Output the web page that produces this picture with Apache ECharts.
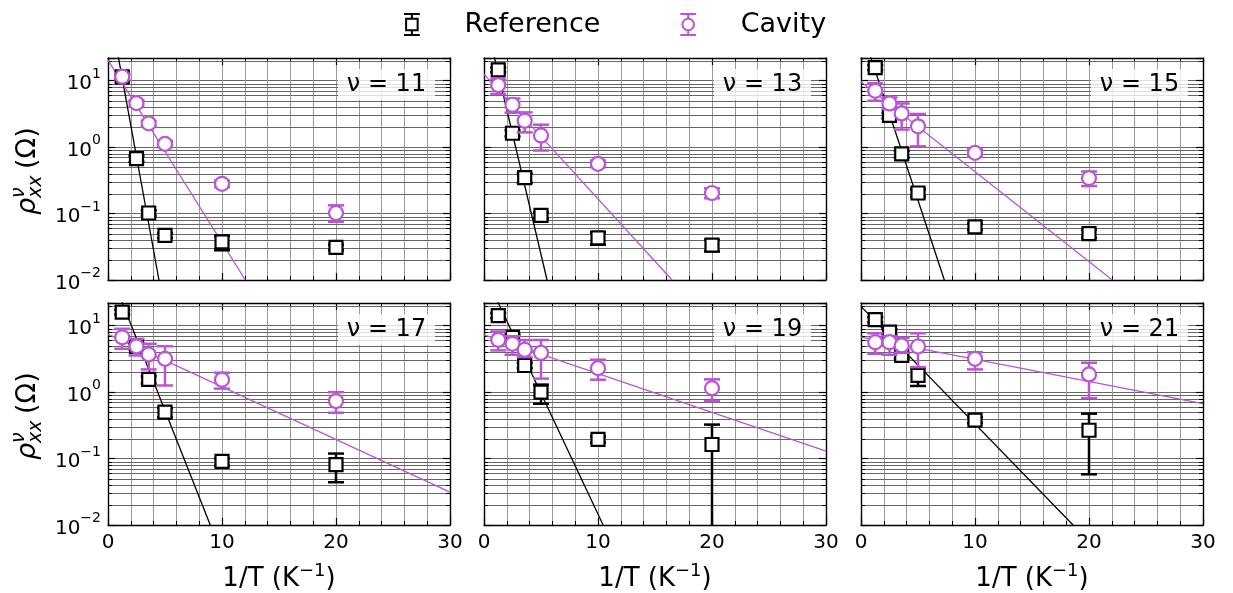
<!DOCTYPE html>
<html><head><meta charset="utf-8">
<script src="https://cdn.jsdelivr.net/npm/echarts@6/dist/echarts.min.js"></script>
<style>html,body{margin:0;padding:0;background:#fff}#c{width:1233px;height:593px}</style>
</head><body><div id="c"></div>
<script>
// ---------- data ----------
const invT = [1.25, 2.5, 3.57, 5, 10, 20];          // 1/T (K^-1)
const nuValues = [11, 13, 15, 17, 19, 21];
const refVals = [
  [11.4, 0.67, 0.102, 0.047, 0.0375, 0.031],
  [14.6, 1.62, 0.347, 0.094, 0.043, 0.0335],
  [15.8, 3.0, 0.79, 0.204, 0.063, 0.050],
  [16.0, 4.9, 1.56, 0.50, 0.091, 0.081],
  [14.2, 6.7, 2.52, 1.0, 0.194, 0.163],
  [12.4, 8.0, 3.57, 1.79, 0.378, 0.267]
];
const refLow = [
  [10.3, 0.60, 0.093, 0.043, 0.028, 0.028],
  [13.5, 1.45, 0.29, 0.085, 0.034, 0.027],
  [14.5, 2.7, 0.70, 0.18, 0.057, 0.043],
  [14.8, 4.4, 1.35, 0.42, 0.078, 0.044],
  [13.0, 6.0, 2.3, 0.67, 0.175, 0.001],
  [11.3, 7.2, 3.2, 1.24, 0.34, 0.058]
];
const refHigh = [
  [12.5, 0.74, 0.112, 0.051, 0.046, 0.034],
  [15.8, 1.80, 0.40, 0.104, 0.052, 0.040],
  [17.2, 3.3, 0.88, 0.23, 0.070, 0.057],
  [17.3, 5.4, 1.75, 0.58, 0.100, 0.119],
  [15.5, 7.4, 2.75, 1.30, 0.215, 0.325],
  [13.5, 8.8, 3.9, 2.3, 0.42, 0.475]
];
const cavVals = [
  [11.5, 4.6, 2.28, 1.12, 0.281, 0.102],
  [8.6, 4.35, 2.5, 1.5, 0.56, 0.204],
  [7.06, 4.55, 3.22, 2.06, 0.82, 0.342],
  [6.7, 4.9, 3.7, 3.18, 1.54, 0.735],
  [6.14, 5.35, 4.35, 3.92, 2.3, 1.15],
  [5.65, 5.65, 5.05, 4.87, 3.18, 1.85]
];
const cavLow = [
  [10.5, 4.1, 2.05, 1.0, 0.25, 0.075],
  [6.3, 3.3, 1.67, 0.89, 0.50, 0.17],
  [5.0, 3.75, 1.84, 1.03, 0.72, 0.26],
  [4.5, 3.57, 2.2, 1.26, 1.13, 0.49],
  [4.25, 3.66, 3.37, 1.6, 1.54, 0.73],
  [3.78, 3.66, 3.92, 2.38, 2.2, 0.815]
];
const cavHigh = [
  [12.5, 5.1, 2.5, 1.24, 0.315, 0.133],
  [10.5, 5.4, 3.34, 2.18, 0.63, 0.24],
  [9.2, 5.6, 4.55, 3.16, 0.95, 0.43],
  [9.0, 6.35, 5.35, 4.92, 1.96, 1.0],
  [8.2, 6.95, 6.1, 6.1, 3.08, 1.56],
  [7.7, 6.95, 6.58, 7.7, 4.0, 2.77]
];
// fit lines: two end points [1/T, rho]
const refFit = [
  [[0, 163], [4.47, 0.01]],
  [[0, 104], [5.53, 0.01]],
  [[0, 63], [7.31, 0.01]],
  [[0, 78], [8.97, 0.01]],
  [[0, 63], [10.45, 0.01]],
  [[0, 19.6], [18.6, 0.01]]
];
const cavFit = [
  [[0, 20.5], [12.05, 0.01]],
  [[0, 12.6], [16.5, 0.01]],
  [[0, 9.66], [22.05, 0.01]],
  [[0, 7.48], [30, 0.0313]],
  [[0, 7.3], [30, 0.129]],
  [[0, 6.76], [30, 0.67]]
];
const minorY = [0.02,0.03,0.04,0.05,0.06,0.07,0.08,0.09,0.2,0.3,0.4,0.5,0.6,0.7,0.8,0.9,2,3,4,5,6,7,8,9,20];

// ---------- layout / style ----------
const FONT = 'DejaVu Sans';
const PURPLE = '#BA55D3';
const colLeft = [108, 484, 861];
const rowTop = [58, 303];
const W = 342, H = 222;

const grids = [], xAxes = [], yAxes = [], series = [], graphics = [];

function yLabel(v) {
  const l = Math.log10(v), e = Math.round(l);
  if (Math.abs(l - e) > 1e-6) return '';
  return '{b|10}{s|' + (e < 0 ? '\u2212' + (-e) : e) + '}';
}

function errRender(color) {
  return function (params, api) {
    const x = api.value(0), lo = api.value(1), hi = api.value(2);
    const a = api.coord([x, hi]), b = api.coord([x, lo]);
    const cs = params.coordSys;
    const yTop = Math.max(a[1], cs.y), yBot = Math.min(b[1], cs.y + cs.height);
    const st = { stroke: color, lineWidth: 2.5 };
    const ch = [{ type: 'line', shape: { x1: a[0], y1: yTop, x2: b[0], y2: yBot }, style: st }];
    if (a[1] >= cs.y) ch.push({ type: 'line', shape: { x1: a[0] - 8, y1: a[1], x2: a[0] + 8, y2: a[1] }, style: st });
    if (b[1] <= cs.y + cs.height) ch.push({ type: 'line', shape: { x1: b[0] - 8, y1: b[1], x2: b[0] + 8, y2: b[1] }, style: st });
    return { type: 'group', children: ch };
  };
}

function minorRender(params, api) {
  const v = api.value(1);
  const pL = api.coord([0, v]), pR = api.coord([30, v]);
  const y = Math.round(pL[1]) + 0.5;
  return { type: 'group', children: [
    { type: 'line', shape: { x1: pL[0], y1: y, x2: pR[0], y2: y }, style: { stroke: '#666', lineWidth: 1 } },
    { type: 'line', shape: { x1: pL[0], y1: y, x2: pL[0] + 4, y2: y }, style: { stroke: '#000', lineWidth: 1 } },
    { type: 'line', shape: { x1: pR[0] - 4, y1: y, x2: pR[0], y2: y }, style: { stroke: '#000', lineWidth: 1 } }
  ]};
}

const frame = { show: true, onZero: false, lineStyle: { color: '#000', width: 1.4 } };

for (let p = 0; p < 6; p++) {
  const r = Math.floor(p / 3), c = p % 3;
  grids.push({ left: colLeft[c], top: rowTop[r], width: W, height: H });
  const showX = r === 1, showY = c === 0;
  xAxes.push({
    gridIndex: p, type: 'value', min: 0, max: 30, interval: 10, position: 'bottom',
    axisLine: frame,
    axisTick: { show: true, inside: true, length: 7, lineStyle: { color: '#000', width: 1.2 } },
    minorTick: { show: true, splitNumber: 5, length: 4, lineStyle: { color: '#000', width: 1 } },
    axisLabel: { show: showX, color: '#000', fontFamily: FONT, fontSize: 20, margin: 8 },
    splitLine: { show: true, lineStyle: { color: '#999', width: 1 } },
    minorSplitLine: { show: true, lineStyle: { color: '#999', width: 1 } },
    name: showX ? '{a|1/T (K}{s|\u22121}{a|)}' : '',
    nameLocation: 'middle', nameGap: 37,
    nameTextStyle: { rich: {
      a: { fontFamily: FONT, fontSize: 26, color: '#000', verticalAlign: 'bottom', lineHeight: 30 },
      s: { fontFamily: FONT, fontSize: 18, color: '#000', verticalAlign: 'top', lineHeight: 18 }
    } }
  });
  xAxes.push({
    gridIndex: p, type: 'value', min: 0, max: 30, interval: 10, position: 'top',
    axisLine: frame,
    axisTick: { show: true, inside: true, length: 7, lineStyle: { color: '#000', width: 1.2 } },
    minorTick: { show: true, splitNumber: 5, length: 4, lineStyle: { color: '#000', width: 1 } },
    axisLabel: { show: false }, splitLine: { show: false }
  });
  yAxes.push({
    gridIndex: p, type: 'log', logBase: 10, min: 0.01, max: 22, position: 'left',
    axisLine: frame,
    axisTick: { show: true, inside: true, length: 7, lineStyle: { color: '#000', width: 1.2 } },
    axisLabel: { show: showY, formatter: yLabel, margin: 7, rich: {
      b: { fontFamily: FONT, fontSize: 20, color: '#000', verticalAlign: 'bottom', lineHeight: 27 },
      s: { fontFamily: FONT, fontSize: 14, color: '#000', verticalAlign: 'top', lineHeight: 14 }
    } },
    splitLine: { show: true, lineStyle: { color: '#666', width: 1 } }
  });
  yAxes.push({
    gridIndex: p, type: 'log', logBase: 10, min: 0.01, max: 22, position: 'right',
    axisLine: frame,
    axisTick: { show: true, inside: true, length: 7, lineStyle: { color: '#000', width: 1.2 } },
    axisLabel: { show: false }, splitLine: { show: false }
  });

  const xi = 2 * p, yi = 2 * p;
  series.push({
    type: 'custom', name: 'minor', xAxisIndex: xi, yAxisIndex: yi, silent: true, z: 1,
    data: minorY.map(v => [0, v]), encode: { x: 0, y: 1 }, renderItem: minorRender
  });
  series.push({
    type: 'line', name: 'Reference fit', xAxisIndex: xi, yAxisIndex: yi, data: refFit[p],
    showSymbol: false, symbol: 'none', clip: true, silent: true, z: 2,
    lineStyle: { color: '#000', width: 1.3 }
  });
  series.push({
    type: 'line', name: 'Cavity fit', xAxisIndex: xi, yAxisIndex: yi, data: cavFit[p],
    showSymbol: false, symbol: 'none', clip: true, silent: true, z: 2,
    lineStyle: { color: PURPLE, width: 1.3 }
  });
  series.push({
    type: 'custom', name: 'Reference err', xAxisIndex: xi, yAxisIndex: yi, z: 3, silent: true,
    data: invT.map((x, i) => [x, refLow[p][i], refHigh[p][i]]), encode: { x: 0, y: [1, 2] },
    renderItem: errRender('#000')
  });
  series.push({
    type: 'scatter', name: 'Reference', xAxisIndex: xi, yAxisIndex: yi, z: 4,
    symbol: 'rect', symbolSize: 13,
    itemStyle: { color: '#fff', borderColor: '#000', borderWidth: 2.2, opacity: 1 },
    data: invT.map((x, i) => [x, refVals[p][i]])
  });
  series.push({
    type: 'custom', name: 'Cavity err', xAxisIndex: xi, yAxisIndex: yi, z: 5, silent: true,
    data: invT.map((x, i) => [x, cavLow[p][i], cavHigh[p][i]]), encode: { x: 0, y: [1, 2] },
    renderItem: errRender(PURPLE)
  });
  series.push({
    type: 'scatter', name: 'Cavity', xAxisIndex: xi, yAxisIndex: yi, z: 6,
    symbol: 'circle', symbolSize: 14,
    itemStyle: { color: '#fff', borderColor: PURPLE, borderWidth: 2.2, opacity: 1 },
    data: invT.map((x, i) => [x, cavVals[p][i]])
  });

  // nu label boxes
  graphics.push({ type: 'rect', z: 10, silent: true,
    shape: { x: colLeft[c] + 230, y: rowTop[r] + 11, width: 97, height: 31 },
    style: { fill: 'rgba(255,255,255,0.8)' } });
  graphics.push({ type: 'text', z: 11, silent: true, x: colLeft[c] + 278.5, y: rowTop[r] + 26.5,
    style: { text: '\u03bd = ' + nuValues[p], font: '24px "DejaVu Sans"', fill: '#000',
      textAlign: 'center', textVerticalAlign: 'middle' } });
}

// y-axis titles (rotated)
[rowTop[0] + H / 2 + 2, rowTop[1] + H / 2 + 2].forEach(cy => {
  graphics.push({ type: 'group', x: 28, y: cy, rotation: Math.PI / 2, silent: true, children: [
    { type: 'text', style: { x: -44, y: 0, text: '\u03c1', font: 'italic 27px "DejaVu Sans"', fill: '#000', textAlign: 'left', textVerticalAlign: 'middle' } },
    { type: 'text', style: { x: -27, y: -9, text: '\u03bd', font: 'italic 19px "DejaVu Sans"', fill: '#000', textAlign: 'left', textVerticalAlign: 'middle' } },
    { type: 'text', style: { x: -27, y: 8, text: 'xx', font: 'italic 19px "DejaVu Sans"', fill: '#000', textAlign: 'left', textVerticalAlign: 'middle' } },
    { type: 'text', style: { x: 2, y: 0, text: '(\u03a9)', font: '27px "DejaVu Sans"', fill: '#000', textAlign: 'left', textVerticalAlign: 'middle' } }
  ] });
});

const refIcon = 'path://M8,0.5V5M0.5,0.5H15.5M2.5,5H13.5V16H2.5ZM8,16V20.5M0.5,20.5H15.5';
const cavIcon = 'path://M8,0.5V5M0.5,0.5H15.5M2.5,10.5A5.5,5.5,0,1,1,13.5,10.5A5.5,5.5,0,1,1,2.5,10.5ZM8,16V20.5M0.5,20.5H15.5';

const option = {
  animation: false,
  backgroundColor: '#fff',
  legend: {
    top: 6, left: 398, itemWidth: 95, itemHeight: 21, itemGap: 79, selectedMode: false,
    textStyle: { fontFamily: FONT, fontSize: 27, color: '#000' },
    data: [
      { name: 'Reference', icon: refIcon, itemStyle: { color: '#fff', borderColor: '#000', borderWidth: 2 } },
      { name: 'Cavity', icon: cavIcon, itemStyle: { color: '#fff', borderColor: PURPLE, borderWidth: 2 } }
    ]
  },
  grid: grids, xAxis: xAxes, yAxis: yAxes, series: series, graphic: graphics
};

const chart = echarts.init(document.getElementById('c'), null, { renderer: 'canvas' });
chart.setOption(option);
</script>
</body></html>
